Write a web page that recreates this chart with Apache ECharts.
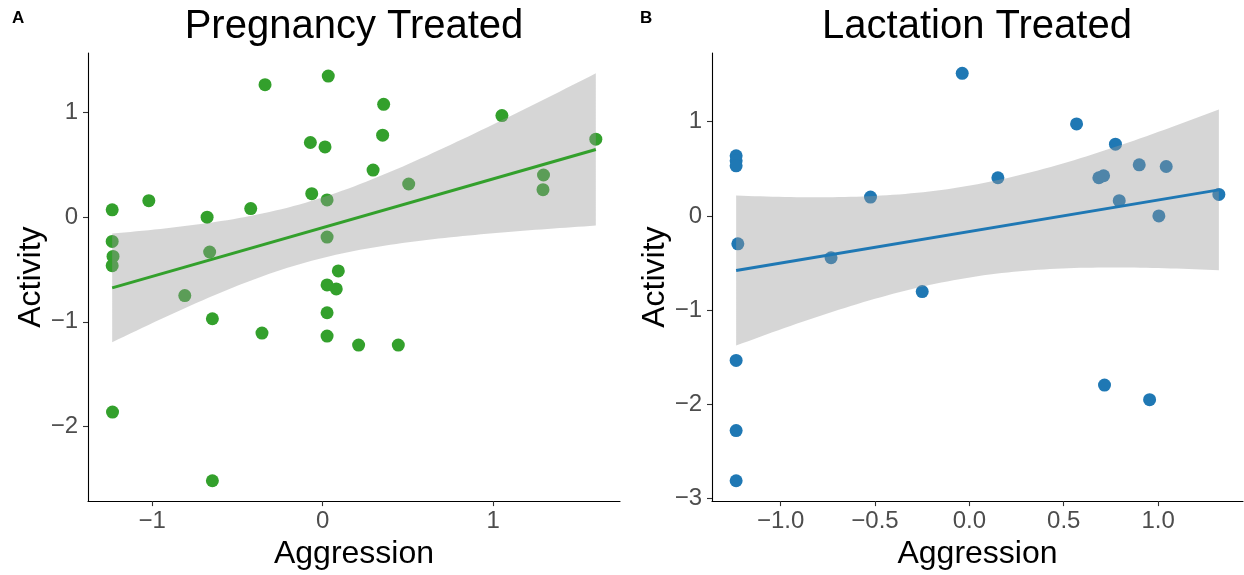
<!DOCTYPE html>
<html>
<head>
<meta charset="utf-8">
<script src="https://cdn.jsdelivr.net/npm/echarts@6/dist/echarts.min.js"></script>
<style>
  html, body { margin: 0; padding: 0; background: #ffffff; }
  #chart { width: 1244px; height: 575px; }
</style>
</head>
<body>
<div id="chart"></div>
<script>
// Pregnancy-treated animals: standardized aggression vs. activity
const pregAggression = [-1.235, -1.235, -1.23, -1.235, -1.233, -1.02, -0.809, -0.678, -0.663, -0.647,
  -0.647, -0.422, -0.356, -0.338, -0.072, -0.064, 0.014, 0.026, 0.026, 0.026,
  0.026, 0.026, 0.033, 0.08, 0.092, 0.211, 0.296, 0.352, 0.358, 0.444,
  0.505, 1.052, 1.293, 1.296, 1.603];
const pregActivity = [0.07, -0.232, -0.375, -0.464, -1.864, 0.158, -0.75, 0.0, -0.333, -0.971,
  -2.52, 0.082, -1.108, 1.267, 0.714, 0.225, 0.672, 0.165, -0.19, -0.648,
  -0.914, -1.137, 1.349, -0.686, -0.514, -1.223, 0.45, 0.784, 1.079, -1.223,
  0.317, 0.971, 0.263, 0.403, 0.746];

// Lactation-treated animals
const lactAggression = [-1.236, -1.236, -1.236, -1.227, -1.236, -1.236, -1.236, -0.733, -0.524, -0.25,
  -0.038, 0.151, 0.568, 0.686, 0.711, 0.774, 0.794, 0.9, 1.004, 1.043,
  1.322, 0.716, 0.955];
const lactActivity = [0.637, 0.584, 0.531, -0.296, -1.533, -2.277, -2.809, -0.444, 0.2, -0.803,
  1.512, 0.405, 0.976, 0.405, 0.426, 0.761, 0.162, 0.542, 0.0, 0.524,
  0.228, -1.794, -1.949];

const pregXTicks = [-1, 0, 1];
const pregYTicks = [-2, -1, 0, 1];
const lactXTicks = [-1, -0.5, 0, 0.5, 1];
const lactYTicks = [-3, -2, -1, 0, 1];

const panelTitles = ['Pregnancy Treated', 'Lactation Treated'];
const panelTags = ['A', 'B'];
const xTitle = 'Aggression';
const yTitle = 'Activity';

// two-sided 95% Student t quantiles, keyed by residual degrees of freedom
const tQuantile = { 33: 2.0345, 21: 2.0796 };

const FONT = "'Liberation Sans', Arial, Helvetica, sans-serif";
const GREEN = '#33a02c';
const BLUE = '#1f78b4';

// Ordinary least squares fit with a 95% confidence band for the mean
function linearFit(xs, ys) {
  const n = xs.length;
  const mx = xs.reduce((a, b) => a + b, 0) / n;
  const my = ys.reduce((a, b) => a + b, 0) / n;
  let sxx = 0, sxy = 0;
  for (let i = 0; i < n; i++) {
    sxx += (xs[i] - mx) * (xs[i] - mx);
    sxy += (xs[i] - mx) * (ys[i] - my);
  }
  const slope = sxy / sxx;
  const icpt = my - slope * mx;
  let sse = 0;
  for (let i = 0; i < n; i++) {
    const r = ys[i] - (icpt + slope * xs[i]);
    sse += r * r;
  }
  const s = Math.sqrt(sse / (n - 2));
  const t = tQuantile[n - 2];
  const lo = Math.min(...xs), hi = Math.max(...xs);
  const steps = 80;
  const upper = [], lower = [];
  for (let k = 0; k <= steps; k++) {
    const x = lo + (hi - lo) * k / steps;
    const yh = icpt + slope * x;
    const se = s * Math.sqrt(1 / n + (x - mx) * (x - mx) / sxx);
    upper.push([x, yh + t * se]);
    lower.push([x, yh - t * se]);
  }
  return {
    line: [[lo, icpt + slope * lo], [hi, icpt + slope * hi]],
    upper, lower
  };
}

// 5% padding on each side of the range, as in the default continuous scale
function paddedRange(values) {
  const lo = Math.min(...values), hi = Math.max(...values);
  const pad = (hi - lo) * 0.05;
  return [lo - pad, hi + pad];
}

const minus = v => (v < 0 ? '\u2212' : '') + Math.abs(v);
const minusFixed = v => (v < 0 ? '\u2212' : '') + Math.abs(v).toFixed(1);

function buildPanel(idx, xs, ys, color, xTicks, yTicks, xFmt, yFmt) {
  const fit = linearFit(xs, ys);
  const xr = paddedRange(xs);
  const yr = paddedRange(ys.concat(fit.upper.map(p => p[1]), fit.lower.map(p => p[1])));
  const axisCommon = {
    type: 'value',
    gridIndex: idx,
    splitLine: { show: false },
    axisLine: { show: true, onZero: false, lineStyle: { color: '#000000', width: 1.1 } },
    axisTick: { show: true, inside: false, length: 5, lineStyle: { color: '#333333', width: 1.1 } },
    nameTextStyle: { fontFamily: FONT, fontSize: 32, color: '#000000' }
  };
  const xAxis = Object.assign({}, axisCommon, {
    min: xr[0], max: xr[1],
    name: xTitle, nameLocation: 'middle', nameGap: 36,
    axisTick: Object.assign({}, axisCommon.axisTick, { customValues: xTicks }),
    axisLabel: { customValues: xTicks, formatter: xFmt, margin: 8,
      fontFamily: FONT, fontSize: 24, color: '#4d4d4d' }
  });
  const yAxis = Object.assign({}, axisCommon, {
    min: yr[0], max: yr[1],
    name: yTitle, nameLocation: 'middle', nameGap: 40, nameRotate: 90,
    axisTick: Object.assign({}, axisCommon.axisTick, { customValues: yTicks }),
    axisLabel: { customValues: yTicks, formatter: yFmt, margin: 10,
      fontFamily: FONT, fontSize: 24, color: '#4d4d4d' }
  });
  const series = [
    {
      type: 'scatter', xAxisIndex: idx, yAxisIndex: idx, z: 2,
      symbol: 'circle', symbolSize: 13,
      itemStyle: { color: color, opacity: 1 },
      data: xs.map((x, i) => [x, ys[i]])
    },
    {
      type: 'custom', xAxisIndex: idx, yAxisIndex: idx, z: 3,
      data: [fit.line[0]],
      renderItem: function (params, api) {
        const pts = fit.upper.map(p => api.coord(p))
          .concat(fit.lower.slice().reverse().map(p => api.coord(p)));
        return {
          type: 'polygon',
          shape: { points: pts },
          style: { fill: 'rgba(153,153,153,0.4)', stroke: null }
        };
      }
    },
    {
      type: 'line', xAxisIndex: idx, yAxisIndex: idx, z: 4,
      showSymbol: false, symbol: 'none',
      lineStyle: { color: color, width: 3 },
      data: fit.line
    }
  ];
  return { xAxis, yAxis, series };
}

const p1 = buildPanel(0, pregAggression, pregActivity, GREEN, pregXTicks, pregYTicks, minus, minus);
const p2 = buildPanel(1, lactAggression, lactActivity, BLUE, lactXTicks, lactYTicks, minusFixed, minus);

const chart = echarts.init(document.getElementById('chart'), null, { renderer: 'canvas' });
chart.setOption({
  animation: false,
  backgroundColor: '#ffffff',
  grid: [
    { left: 88, right: 624, top: 53, bottom: 73 },
    { left: 712, right: 1, top: 53, bottom: 73 }
  ],
  xAxis: [p1.xAxis, p2.xAxis],
  yAxis: [p1.yAxis, p2.yAxis],
  series: p1.series.concat(p2.series),
  graphic: [
    { type: 'text', x: 354, y: 7, style: { text: panelTitles[0], textAlign: 'center',
      font: '40px ' + FONT, fill: '#000000' } },
    { type: 'text', x: 977, y: 7, style: { text: panelTitles[1], textAlign: 'center',
      font: '40px ' + FONT, fill: '#000000' } },
    { type: 'text', x: 12, y: 10, style: { text: panelTags[0],
      font: 'bold 17px ' + FONT, fill: '#000000' } },
    { type: 'text', x: 640, y: 10, style: { text: panelTags[1],
      font: 'bold 17px ' + FONT, fill: '#000000' } }
  ]
});
</script>
</body>
</html>
